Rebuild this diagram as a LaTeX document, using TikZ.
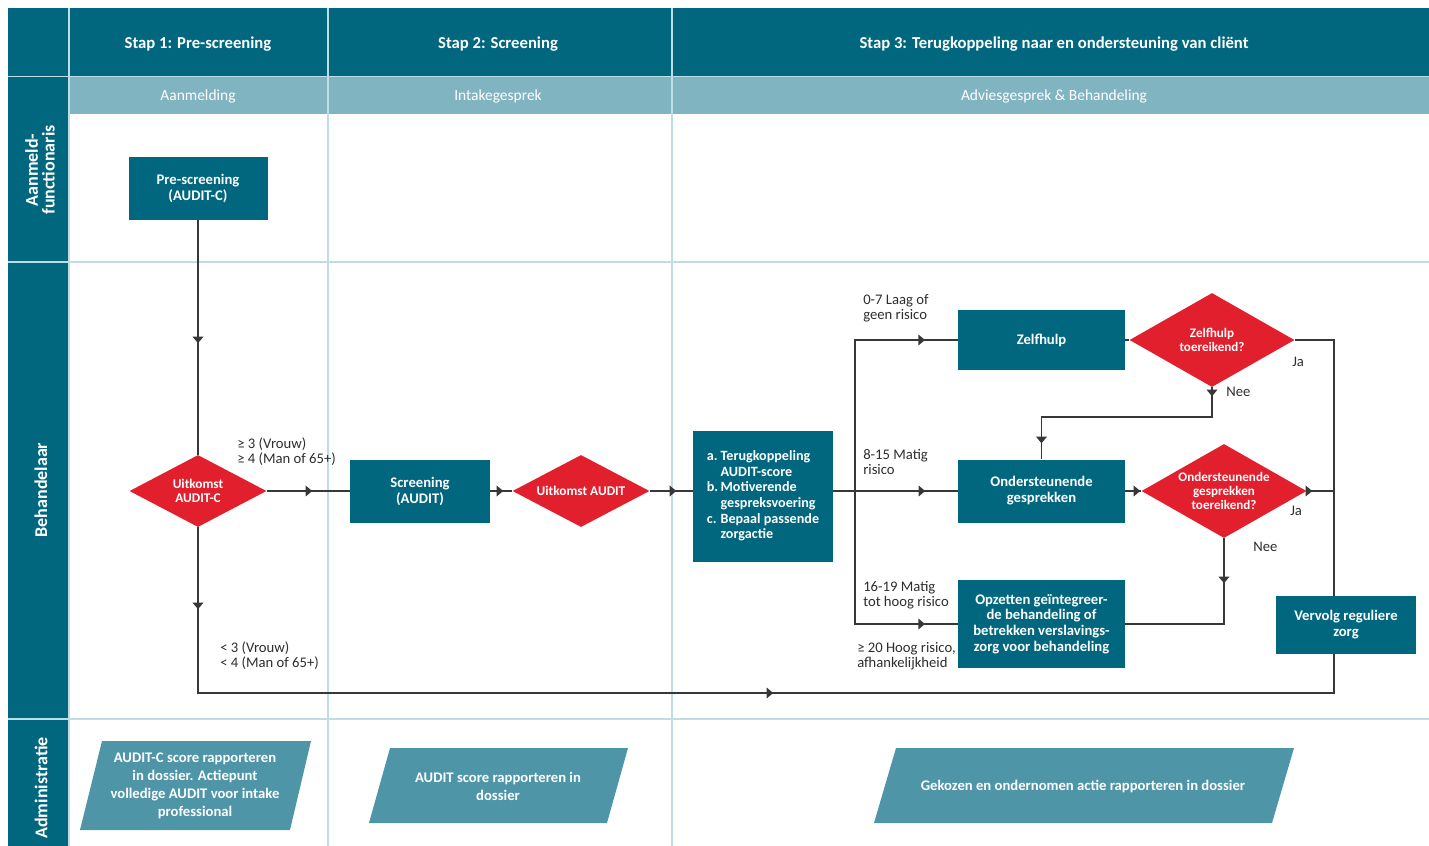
\documentclass[tikz,border=0pt]{standalone}
\usepackage{fontspec}
\setmainfont{Carlito}
\usetikzlibrary{shapes.geometric,arrows.meta,decorations.markings,calc}
\definecolor{dteal}{RGB}{0,103,127}
\definecolor{lteal}{RGB}{128,180,193}
\definecolor{dred}{RGB}{225,31,45}
\definecolor{pfill}{RGB}{79,149,168}
\definecolor{gridc}{RGB}{190,221,229}
\definecolor{linec}{RGB}{55,55,55}
\definecolor{lblc}{RGB}{45,45,45}
\begin{document}
\begin{tikzpicture}[x=0.75pt,y=-0.75pt,
  >={Triangle[length=5pt,width=8pt]},
  box/.style={fill=dteal,text=white,font=\bfseries\fontsize{11}{12}\selectfont,align=center,inner sep=0pt},
  dia/.style={diamond,aspect=1.9,fill=dred,text=white,font=\bfseries\fontsize{10}{10.5}\selectfont,align=center,inner sep=0pt,minimum width=102.75pt,minimum height=54pt},
  diab/.style={diamond,aspect=1.75,fill=dred,text=white,font=\bfseries\fontsize{9.8}{10.5}\selectfont,align=center,inner sep=0pt,minimum width=123.75pt,minimum height=70.5pt},
  conn/.style={draw=linec,line width=1.1pt},
  ma/.style={postaction={decorate},decoration={markings,mark=at position #1 with {\arrow[linec]{>}}}},
  mab/.style 2 args={postaction={decorate},decoration={markings,mark=at position #1 with {\arrow[linec]{>}},mark=at position #2 with {\arrow[linec]{>}}}},
  lbl/.style={font=\fontsize{11}{11.25}\selectfont,text=lblc,align=left,anchor=west,inner sep=0pt},
  hdr/.style={text=white,font=\bfseries\fontsize{12.5}{13}\selectfont,inner sep=0pt},
  sub/.style={text=white,font=\fontsize{11.6}{12}\selectfont,inner sep=0pt},
  lane/.style={text=white,font=\bfseries\fontsize{13.5}{12.5}\selectfont,align=center,rotate=90,inner sep=0pt},
  ptext/.style={text=white,font=\bfseries\fontsize{11}{13.5}\selectfont,align=center,inner sep=0pt},
  gridl/.style={draw=gridc,line width=1.2pt}
]
\useasboundingbox (0,0) rectangle (1429,846);
% backgrounds
\fill[dteal] (8,8) rectangle (1429,76);
\fill[lteal] (69,77) rectangle (1429,114);
\fill[dteal] (8,76) rectangle (69,846);
\draw[gridl] (8,76.5) -- (1429,76.5);
\draw[gridl] (8,262) -- (1429,262);
\draw[gridl] (8,719) -- (1429,719);
\draw[gridl] (69,8) -- (69,846);
\draw[gridl] (328,8) -- (328,846);
\draw[gridl] (672,8) -- (672,846);
% headers
\node[hdr] (h1) at (198,44) {Stap 1: Pre-screening};
\node[hdr] (h2) at (498,44) {Stap 2: Screening};
\node[hdr] (h3) at (1054,44) {Stap 3: Terugkoppeling naar en ondersteuning van cliënt};
\node[sub] (s1) at (198,96) {Aanmelding};
\node[sub] (s2) at (498,96) {Intakegesprek};
\node[sub] (s3) at (1054,96) {Adviesgesprek \& Behandeling};
\node[lane] (l1) at (40,170) {Aanmeld-\\functionaris};
\node[lane] (l2) at (41,490) {Behandelaar};
\node[lane] (l3) at (41,788) {Administratie};
% process nodes
\node[box,minimum width=104.25pt,minimum height=47.25pt] (pre) at (198,188.5) {Pre-screening\\(AUDIT-C)};
\node[dia] (d1) at (198,491) {Uitkomst\\AUDIT-C};
\node[box,minimum width=105pt,minimum height=47.25pt] (scr) at (420,491) {Screening\\(AUDIT)};
\node[dia] (d2) at (581,491) {Uitkomst AUDIT};
\node[box,minimum width=105pt,minimum height=98.25pt,font=\bfseries\fontsize{10.6}{11.7}\selectfont] (fb) at (763,496.5) {\begin{tabular}{@{}l@{\,}l@{}}a. & Terugkoppeling\\ & AUDIT-score\\ b. & Motiverende\\ & gespreksvoering\\ c. & Bepaal passende\\ & zorgactie\end{tabular}};
\node[box,minimum width=125.25pt,minimum height=45pt] (zelf) at (1041.5,340) {Zelfhulp};
\node[diab] (d3) at (1212,340) {Zelfhulp\\toereikend?};
\node[box,minimum width=125.25pt,minimum height=47.25pt] (ond) at (1041.5,491) {Ondersteunende\\gesprekken};
\node[diab] (d4) at (1224,491) {Ondersteunende\\gesprekken\\toereikend?};
\node[box,minimum width=125.25pt,minimum height=66pt,font=\bfseries\fontsize{11}{11.8}\selectfont] (opz) at (1041.5,624) {Opzetten geïntegreer-\\de behandeling of\\betrekken verslavings-\\zorg voor behandeling};
\node[box,minimum width=105pt,minimum height=43.5pt] (verv) at (1346,625) {Vervolg reguliere\\zorg};
% helper coordinates
\coordinate (split) at (855,491);
\coordinate (jx) at (1334,340);
\coordinate (k) at (1212,417);
\coordinate (bl) at (198,693);
% connectors
\draw[conn,ma=92.25pt] (pre.south) -- (d1.north);
\draw[conn,ma=34.1pt] (d1.east) -- (scr.west);
\draw[conn,ma=9.75pt] (scr.east) -- (d2.west);
\draw[conn,ma=19.9pt] (d2.east) -- (d2.east -| fb.west);
\draw[conn,ma=69pt] (fb.east |- split) -- (ond.west);
\draw[conn,ma=165.75pt] (split) |- (zelf.west);
\draw[conn,ma=152.25pt] (split) |- (opz.west);
\draw[conn] (zelf.east) -- (d3.west);
\draw[conn,mab={6.75pt}{169.9pt}] (d3.south) -- (k) -| (ond.north);
\draw[conn,ma=11.25pt] (ond.east) -- (d4.west);
\draw[conn,ma=4.1pt] (d4.east) -- (jx |- d4.east);
\draw[conn] (d3.east) -- (jx) -- (verv.north -| jx);
\draw[conn,ma=33.75pt] (d4.south) -- (d4.south |- opz.east) -- (opz.east);
\draw[conn,mab={61.5pt}{555.75pt}] (d1.south) -- (bl) -- (bl -| jx) -- (verv.south -| jx);
% labels
\node[lbl] (t1) at (237,451.5) {≥ 3 (Vrouw)\\≥ 4 (Man of 65+)};
\node[lbl] (t2) at (220,655.5) {< 3 (Vrouw)\\< 4 (Man of 65+)};
\node[lbl] (t3) at (863,308.5) {0-7 Laag of\\geen risico};
\node[lbl] (t4) at (863,461.5) {8-15 Matig\\risico};
\node[lbl] (t5) at (863,595.5) {16-19 Matig\\tot hoog risico};
\node[lbl] (t6) at (857,656.5) {≥ 20 Hoog risico,\\afhankelijkheid};
\node[lbl] (t7) at (1226,392) {Nee};
\node[lbl] (t8) at (1292,362) {Ja};
\node[lbl] (t9) at (1290,511) {Ja};
\node[lbl] (t10) at (1253,547) {Nee};
% administratie
\fill[pfill] (102,741) -- (311,741) -- (290,830) -- (80,830) -- cycle;
\node[ptext] (p1) at (195,786) {AUDIT-C score rapporteren\\in dossier. Actiepunt\\volledige AUDIT voor intake\\professional};
\fill[pfill] (390,748) -- (628,748) -- (607,823) -- (369,823) -- cycle;
\node[ptext] (p2) at (498,786) {AUDIT score rapporteren in\\dossier};
\fill[pfill] (896,748) -- (1294,748) -- (1272,823) -- (874,823) -- cycle;
\node[ptext] (p3) at (1083,786) {Gekozen en ondernomen actie rapporteren in dossier};
\end{tikzpicture}
\end{document}
